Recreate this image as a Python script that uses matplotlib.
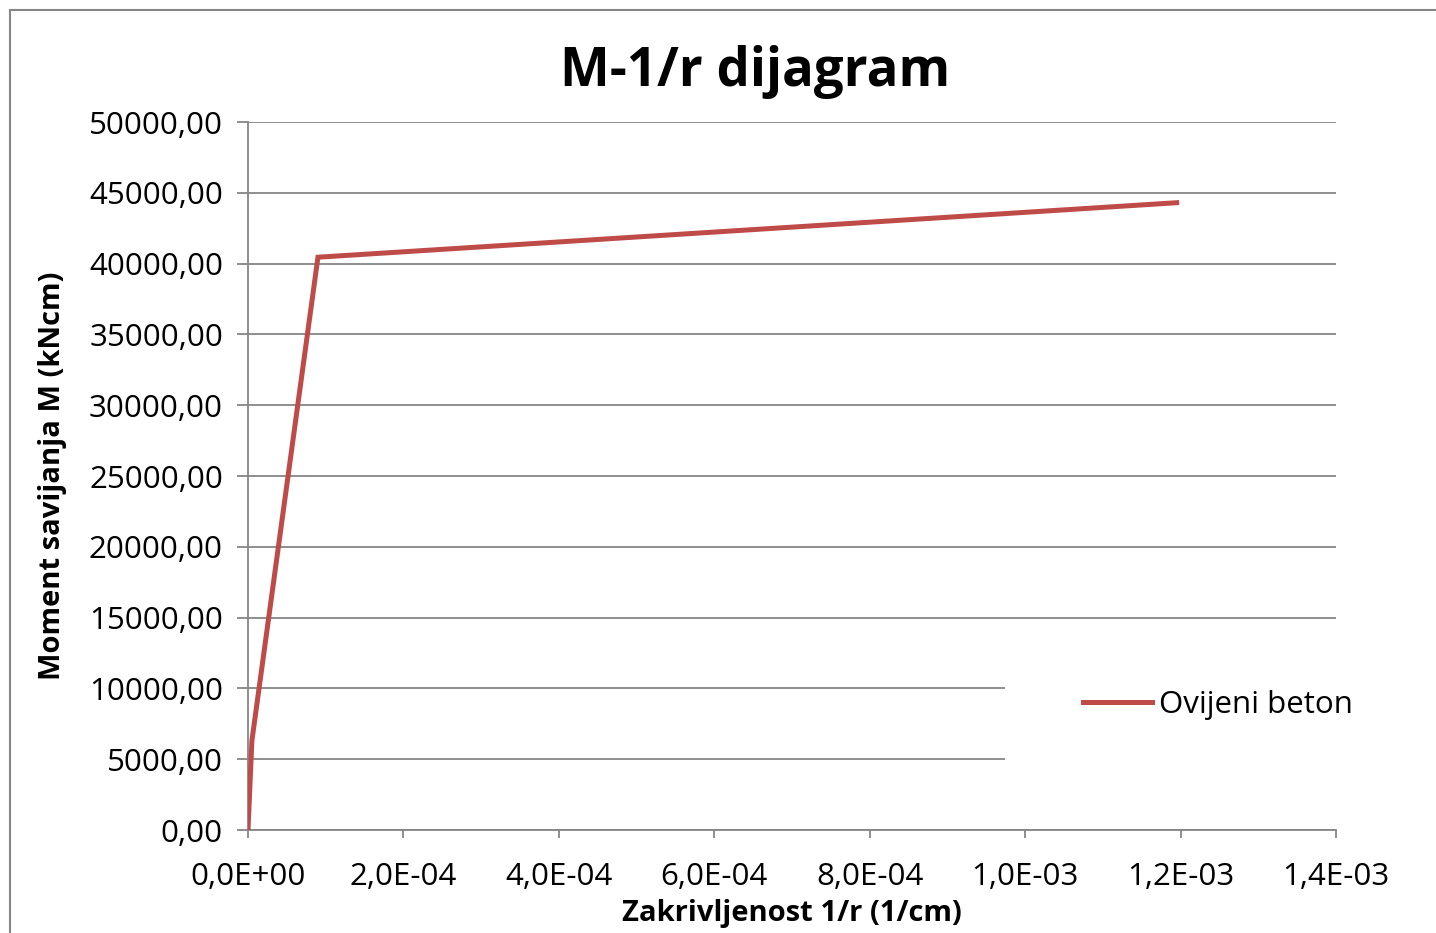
import matplotlib.pyplot as plt
from matplotlib.patches import Rectangle
from matplotlib.ticker import FuncFormatter, MultipleLocator

# M - 1/r points
curvature = [0.0, 5.0e-6, 9.0e-5, 1.195e-3]
moment = [0.0, 6300.0, 40450.0, 44300.0]
series_name = "Ovijeni beton"

title = "M-1/r dijagram"
x_label = "Zakrivljenost 1/r (1/cm)"
y_label = "Moment savijanja M (kNcm)"

grey = "#868686"
red = "#BE4B48"
font = "Open Sans"

fig = plt.figure(figsize=(14.36, 9.33), dpi=100)
ax = fig.add_axes([248 / 1436, 1 - 830 / 933, 1088 / 1436, 708 / 933])

ax.plot(curvature, moment, color=red, lw=3.6, label=series_name,
        solid_joinstyle="miter", zorder=3)

ax.set_xlim(0, 1.4e-3)
ax.set_ylim(0, 50000)
ax.xaxis.set_major_locator(MultipleLocator(2e-4))
ax.yaxis.set_major_locator(MultipleLocator(5000))
ax.xaxis.set_major_formatter(FuncFormatter(lambda v, p: f"{v:.1E}".replace(".", ",")))
ax.yaxis.set_major_formatter(FuncFormatter(lambda v, p: f"{v:.2f}".replace(".", ",")))

ax.grid(axis="y", color=grey, lw=1.3)
ax.set_axisbelow(True)
for s in ["top", "right"]:
    ax.spines[s].set_visible(False)
for s in ["left", "bottom"]:
    ax.spines[s].set_color(grey)
    ax.spines[s].set_linewidth(1.3)

ax.tick_params(axis="y", length=8, width=1.3, color=grey, pad=10,
               labelsize=22.5, labelfontfamily=font)
ax.tick_params(axis="x", length=6, width=1.3, color=grey, pad=17,
               labelsize=22.5, labelfontfamily=font)

ax.set_xlabel(x_label, fontsize=21, fontweight="bold", family=font, labelpad=5)
ax.set_ylabel(y_label, fontsize=21, fontweight="bold", family=font, labelpad=16)
fig.text(755 / 1436, 1 - 72 / 933, title, ha="center", va="center",
         fontsize=38, fontweight="bold", family=font)

# white area behind the legend, hides the gridlines there
ax.add_patch(Rectangle((1005 / 1436, 1 - 790 / 933), 0.4, 130 / 933,
                       transform=fig.transFigure, facecolor="white",
                       edgecolor="none", clip_on=False, zorder=1))
leg = ax.legend(loc="center", bbox_to_anchor=(1218 / 1436, 1 - 705 / 933),
                bbox_transform=fig.transFigure, frameon=False,
                handlelength=2.2, handletextpad=0.23,
                prop={"family": font, "size": 22.5})

# outer chart border
fig.patches.append(Rectangle((10 / 1436, -0.1), 1.2, 1.1 - 10 / 933,
                             transform=fig.transFigure, fill=False,
                             edgecolor=grey, lw=1.5))

fig.savefig("out.png", dpi=100)
